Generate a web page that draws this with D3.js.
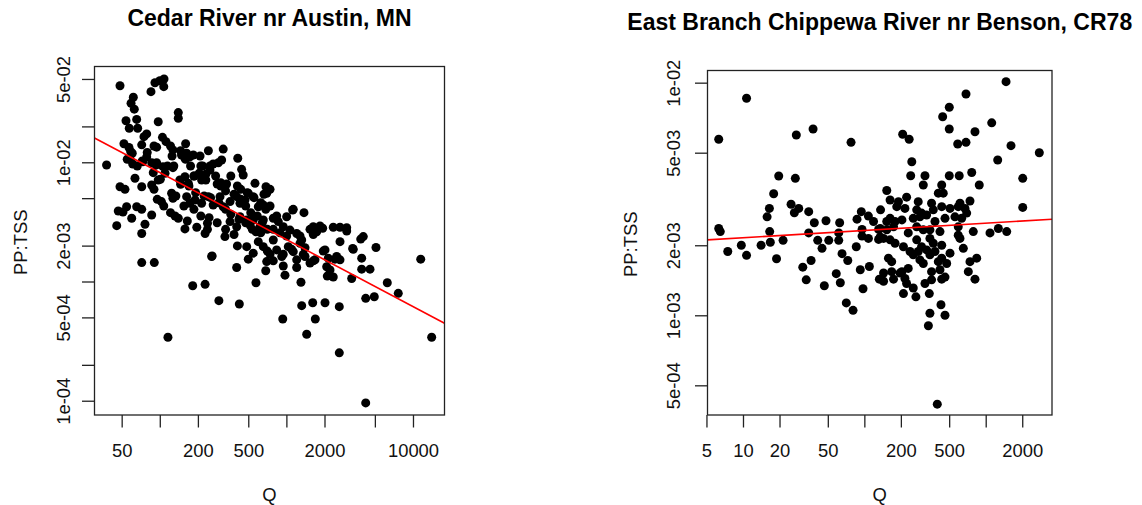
<!DOCTYPE html>
<html>
<head>
<meta charset="utf-8">
<script src="https://cdn.jsdelivr.net/npm/d3@7"></script>
<style>
  html, body { margin: 0; padding: 0; background: #fff; }
  svg { display: block; font-family: "Liberation Sans", Arial, Helvetica, sans-serif; }
</style>
</head>
<body>
<svg id="chart" width="1142" height="505"></svg>
<script>
// Samples as [Q, PP:TSS]
const cedarPoints = [
  [48.5,0.0439],[85.2,0.0391],[91.6,0.0465],[100,0.0483],[108,0.0500],[107.5,0.0431],[61.8,0.0351],[59.3,0.0313],[62.9,0.0279],[54.1,0.0223],
  [65.7,0.0229],[57.4,0.0193],[66.9,0.0193],[97.2,0.0219],[140,0.0261],[140,0.0234],[78.8,0.0173],[75.0,0.0164],[52.1,0.0143],[72.0,0.0140],
  [105,0.0162],[112,0.0149],[121.5,0.0137],[94.4,0.0134],[127,0.0127],[160,0.0143],[242,0.0125],[317,0.0129],[38.0,0.00949],[58.9,0.0123],
  [58.2,0.0106],[61.1,0.00968],[66.4,0.00931],[73.3,0.0101],[78.8,0.0111],[86.3,0.00992],[93.2,0.00949],[106,0.00919],[127,0.00901],[148.5,0.0115],
  [163,0.0119],[173,0.0111],[158,0.0108],[184,0.0115],[208,0.0113],[218,0.00931],[249,0.00931],[264,0.00968],[290,0.00992],[308,0.01045],
  [413,0.0108],[443,0.00873],[456,0.00782],
  [48.5,0.00624],[53.1,0.00593],[63.7,0.00734],[72.0,0.00624],[86.3,0.00645],[90.0,0.00593],[97.2,0.00710],[110,0.00809],[144,0.00710],[158,0.00757],
  [168,0.00666],[187,0.00767],[205,0.00809],[214,0.00710],[231,0.00710],[249,0.00862],[284,0.00657],[303,0.00633],[337,0.00657],[436,0.00593],
  [565,0.00666],[690,0.00624],[699,0.00550],
  [47.0,0.00390],[51.2,0.00383],[54.7,0.00424],[60.0,0.00339],[65.7,0.00424],[72.0,0.00403],[86.3,0.00361],[103,0.00468],[124,0.00550],[127,0.00499],
  [132,0.00354],[140,0.00339],[163,0.00515],[173,0.00453],[190,0.00483],[214,0.00453],[242,0.00515],[264,0.00438],[299,0.00515],[317,0.00424],
  [359,0.00468],[405,0.00515],[430,0.00453],[471,0.00483],[500,0.00550],[547,0.00515],[600,0.00424],[657,0.00438],
  [45.7,0.00294],[72.0,0.00253],[76.4,0.00302],[158,0.00276],[196,0.00285],[228,0.00253],[238,0.00308],[327,0.00238],[359,0.00318],[405,0.00288],
  [430,0.00349],[486,0.00328],[516,0.00298],[547,0.00328],[575,0.00261],[619,0.00288],[657,0.00328],[788,0.00339],[863,0.00318],[945,0.00288],
  [1005,0.00349],[1121,0.00398],[1377,0.00378],[1068,0.00270],[1206,0.00253],[1321,0.00223],[1631,0.00288],[1735,0.00261],[1935,0.00280],[2346,0.00285],
  [2652,0.00285],[2995,0.00283],[2652,0.00216],[3865,0.00227],[4049,0.00238],[3340,0.00189],
  [72.0,0.00144],[90.5,0.00144],[257,0.00162],[405,0.00131],[410,0.00199],[486,0.00196],[500,0.00154],[547,0.00173],[600,0.00216],[657,0.00196],
  [699,0.00147],[788,0.00223],[838,0.00184],[919,0.00162],[945,0.00135],[975,0.00113],[1035,0.00196],[1133,0.00178],[1206,0.00152],[1281,0.00209],
  [1403,0.00162],[1537,0.00143],[1683,0.00152],[2019,0.00184],[2142,0.00157],[2211,0.00125],[2346,0.00109],[2497,0.00162],[2652,0.00152],[3375,0.00186],
  [3934,0.00157],[3934,0.00127],[4577,0.00127],[5103,0.00193],[3280,0.00106],[11510,0.00154],
  [182,0.000922],[228,0.000947],[575,0.000977],[1304,0.000986],[6266,0.000977],[7653,0.000796],[4233,0.000722],[4948,0.000745],[293,0.000691],[425,0.000648],
  [1321,0.000627],[1614,0.000664],[2019,0.000664],[2618,0.000615],[936,0.000485],[1692,0.000485],[116,0.000341],[1447,0.000361],[14050,0.000341],[2618,0.000252],
  [4233,0.0000959],
  [259,0.00164],[2104,0.00111],[2082,0.00133],[2422,0.00154],[1955,0.00180],[743,0.00169],[788,0.00149],[945,0.00169],[1206,0.00131],[1359,0.00169],
  [1101,0.00186],[1403,0.00192],[1631,0.00149],[687,0.00123],[707,0.00180],[1133,0.00403],[838,0.00354],[1537,0.00274],[1843,0.00292],[2995,0.00265],
  [1631,0.00248],[1281,0.00241],[743,0.00593],[788,0.00274],[891,0.00256],[1005,0.00241],[743,0.00430],
  [57.1,0.0133],[60.6,0.0119],[55.3,0.0106],[72.7,0.01025],[79.6,0.0121],[90.0,0.0137],[94.4,0.00992],[88.8,0.00818],[101,0.00720],[115,0.00931],
  [129,0.00931],[125,0.0113],[146,0.0125],[160,0.0106],[175,0.00931],[186,0.00767],[211,0.00931],[231,0.00793],[276,0.00767],[303,0.00674],
  [331,0.00575],[386,0.00539],[436,0.00489],[477,0.00430],[523,0.00378],[589,0.00354],[645,0.00311],[707,0.00274],[627,0.00256],[538,0.00274],
  [477,0.00311],[422,0.00332],[364,0.00366],[331,0.00403],[293,0.00458],[252,0.00505],[224,0.00522],[192,0.00556],[170,0.00633],[146,0.00653],
  [134,0.00522],[155,0.00430],[186,0.00403],[211,0.00354],[245,0.00343],[284,0.00311],[331,0.00274],[386,0.00248],[238,0.00274],[165,0.00322],
  [121.5,0.00378],[107.5,0.00430],[95.5,0.00489],[555,0.00505],[627,0.00458],[687,0.00403],[665,0.00539],[491,0.00556],[410,0.00633],[364,0.00767]
];

const chippewaPoints = [
  [10.7,0.00857],[6.31,0.00571],[27.5,0.00596],[37.8,0.00632],[77.7,0.00554],[19.7,0.00397],[27.0,0.00388],[17.9,0.00333],[24.9,0.00300],[28.8,0.00288],
  [26.5,0.00276],[16.5,0.00288],[15.8,0.00265],[34.8,0.00279],[6.31,0.00236],[6.50,0.00229],[16.6,0.00229],[16.8,0.00206],[21.4,0.00210],[38.7,0.00250],
  [48.3,0.00255],[62.6,0.00250],[34.8,0.00226],[41.3,0.00210],[50.9,0.00210],[44.8,0.00194],[61.5,0.00226],[61.5,0.00210],[87.0,0.00259],[94.4,0.00279],
  [108,0.00267],[119,0.00253],[95.7,0.00234],[95.7,0.00219],[108,0.00214],[85.8,0.00197],[131,0.00234],[131,0.00212],[136,0.00284],[7.49,0.00188],
  [9.69,0.00200],[10.7,0.00181],[14.1,0.00200],[18.9,0.00175],[36.4,0.00172],[31.1,0.00161],[33.2,0.00142],[46.8,0.00134],[65.5,0.00184],[73.0,0.00172],
  [58.7,0.00151],[63.4,0.00138],[92.6,0.00157],[110,0.00162],[97.5,0.00130],[71.0,0.00113],[80.7,0.00105],[133,0.00143],
  [1471,0.0101],[688,0.00894],[501,0.00784],[442,0.00714],[501,0.00632],[1121,0.00672],[816,0.00615],[588,0.00545],[688,0.00554],[207,0.00600],
  [234,0.00571],[1616,0.00536],[2765,0.00500],[1256,0.00465],[246,0.00457],[2019,0.00388],[241,0.00398],[316,0.00398],[501,0.00398],[605,0.00398],
  [767,0.00411],[885,0.00363],[306,0.00363],[434,0.00363],[2019,0.00291],[153,0.00344],[407,0.00335],[447,0.00335],[163,0.00313],[191,0.00308],
  [223,0.00322],[278,0.00308],[358,0.00303],[434,0.00293],[614,0.00303],[742,0.00310],[185,0.00293],[216,0.00288],[270,0.00284],[296,0.00275],
  [370,0.00284],[508,0.00288],[594,0.00293],[675,0.00288],[697,0.00275],[163,0.00261],[179,0.00253],[204,0.00257],[253,0.00261],[287,0.00265],
  [326,0.00270],[382,0.00253],[462,0.00261],[558,0.00265],[634,0.00261],[135,0.00236],[153,0.00233],[174,0.00240],[230,0.00226],[270,0.00240],
  [306,0.00233],[347,0.00233],[420,0.00229],[594,0.00240],[790,0.00229],[1085,0.00226],[1271,0.00236],[1490,0.00229],[144,0.00214],[163,0.00211],
  [179,0.00204],[210,0.00197],[270,0.00211],[296,0.00197],[347,0.00214],[370,0.00204],[434,0.00200],[594,0.00221],[614,0.00214],[654,0.00194],
  [158,0.00176],[168,0.00170],[238,0.00188],[253,0.00182],[278,0.00188],[326,0.00191],[347,0.00182],[382,0.00188],[434,0.00176],[508,0.00185],
  [407,0.00170],[477,0.00167],[742,0.00170],[843,0.00176],[168,0.00154],[204,0.00154],[230,0.00159],[287,0.00173],[306,0.00167],[358,0.00154],
  [420,0.00157],[719,0.00154],[174,0.00143],[216,0.00144],[223,0.00137],[316,0.00137],[358,0.00142],[434,0.00143],[462,0.00146],[816,0.00143],
  [144,0.00140],[210,0.00124],[253,0.00131],[266,0.00120],[343,0.00124],[428,0.00111],[462,0.00100],[347,0.00102],[337,0.000902],[399,0.000415],
  [153,0.00253],[144,0.00152],[197,0.00152],[135,0.00217]
];

// Fitted lines: log10(PP:TSS) = intercept + slope * log10(Q)
const cedarFit = [-0.962, -0.562];
const chippewaFit = [-2.698, 0.0313];

// Axis limits
const cedarQLimits = [30.5, 17740];
const cedarPPLimits = [0.0636, 7.59e-5];
const chippewaQLimits = [5.10, 3518];
const chippewaPPLimits = [0.01128, 3.727e-4];

// Ticks and their labels (blank = tick without label)
const cedarXTicks = [50, 100, 200, 500, 1000, 2000, 5000, 10000];
const cedarXLabels = ["50", "", "200", "500", "", "2000", "", "10000"];
const cedarYTicks = [0.05, 0.02, 0.01, 0.005, 0.002, 0.001, 0.0005, 0.0002, 0.0001];
const cedarYLabels = ["5e-02", "", "1e-02", "", "2e-03", "", "5e-04", "", "1e-04"];
const chippewaXTicks = [5, 10, 20, 50, 100, 200, 500, 1000, 2000];
const chippewaXLabels = ["5", "10", "20", "50", "", "200", "500", "", "2000"];
const chippewaYTicks = [0.01, 0.005, 0.002, 0.001, 0.0005];
const chippewaYLabels = ["1e-02", "5e-03", "2e-03", "1e-03", "5e-04"];

const titles = ["Cedar River nr Austin, MN", "East Branch Chippewa River nr Benson, CR78"];
const xTitle = "Q";
const yTitle = "PP:TSS";

const svg = d3.select("#chart");
const INK = "#111";

function drawPanel(p) {
  const x = d3.scaleLog().domain(p.qLimits).range([p.left, p.right]);
  const y = d3.scaleLog().domain(p.ppLimits).range([p.top, p.bottom]);
  const g = svg.append("g");

  // observations
  g.append("g").selectAll("circle")
    .data(p.points)
    .join("circle")
    .attr("cx", d => x(d[0]))
    .attr("cy", d => y(d[1]))
    .attr("r", 4.5)
    .attr("fill", "#000");

  // regression line across the full plotting range
  const [a, b] = p.fit;
  const fitPts = p.qLimits.map(q => [q, Math.pow(10, a + b * Math.log10(q))]);
  g.append("line")
    .attr("x1", x(fitPts[0][0])).attr("y1", y(fitPts[0][1]))
    .attr("x2", x(fitPts[1][0])).attr("y2", y(fitPts[1][1]))
    .attr("stroke", "#ff0000")
    .attr("stroke-width", 1.6);

  // frame
  g.append("rect")
    .attr("x", p.left).attr("y", p.top)
    .attr("width", p.right - p.left).attr("height", p.bottom - p.top)
    .attr("fill", "none").attr("stroke", "#222").attr("stroke-width", 1.3);

  // x axis
  const xa = g.append("g")
    .attr("transform", `translate(0,${p.bottom})`)
    .call(d3.axisBottom(x).tickValues(p.xTicks).tickFormat((d, i) => p.xLabels[i]).tickSize(12.5).tickSizeOuter(0));
  xa.select(".domain").remove();
  xa.selectAll(".tick line").attr("stroke", "#222").attr("stroke-width", 1.3);
  xa.selectAll(".tick text")
    .attr("y", 41.7).attr("dy", null)
    .attr("fill", INK).style("font-size", "18.4px")
    .style("font-family", '"Liberation Sans", Arial, sans-serif');

  // y axis
  const ya = g.append("g")
    .attr("transform", `translate(${p.left},0)`)
    .call(d3.axisLeft(y).tickValues(p.yTicks).tickFormat((d, i) => p.yLabels[i]).tickSize(12.5).tickSizeOuter(0));
  ya.select(".domain").remove();
  ya.selectAll(".tick line").attr("stroke", "#222").attr("stroke-width", 1.3);
  ya.selectAll(".tick text")
    .attr("x", null).attr("dy", null)
    .attr("transform", `translate(${-p.yLabelGap},0) rotate(-90)`)
    .attr("text-anchor", "middle")
    .attr("fill", INK).style("font-size", "18.4px")
    .style("font-family", '"Liberation Sans", Arial, sans-serif');

  // axis titles
  g.append("text")
    .attr("x", (p.left + p.right) / 2).attr("y", 500.5)
    .attr("text-anchor", "middle").attr("fill", INK)
    .style("font-size", "18.4px").text(xTitle);
  g.append("text")
    .attr("transform", `translate(${p.yTitleX},${(p.top + p.bottom) / 2 + 1.5}) rotate(-90)`)
    .attr("text-anchor", "middle").attr("fill", INK)
    .style("font-size", "18.4px").text(yTitle);

  // panel title
  g.append("text")
    .attr("x", (p.left + p.right) / 2).attr("y", p.titleY)
    .attr("text-anchor", "middle").attr("fill", "#000")
    .style("font-size", "23px").style("font-weight", "bold")
    .text(p.title);
}

drawPanel({
  points: cedarPoints, fit: cedarFit,
  qLimits: cedarQLimits, ppLimits: cedarPPLimits,
  xTicks: cedarXTicks, xLabels: cedarXLabels,
  yTicks: cedarYTicks, yLabels: cedarYLabels,
  left: 94.5, right: 444.5, top: 66.5, bottom: 415,
  yLabelGap: 24.8, yTitleX: 27, titleY: 25.5, title: titles[0]
});

drawPanel({
  points: chippewaPoints, fit: chippewaFit,
  qLimits: chippewaQLimits, ppLimits: chippewaPPLimits,
  xTicks: chippewaXTicks, xLabels: chippewaXLabels,
  yTicks: chippewaYTicks, yLabels: chippewaYLabels,
  left: 707.5, right: 1052, top: 70.5, bottom: 415,
  yLabelGap: 27.5, yTitleX: 636.7, titleY: 29.5, title: titles[1]
});
</script>
</body>
</html>
